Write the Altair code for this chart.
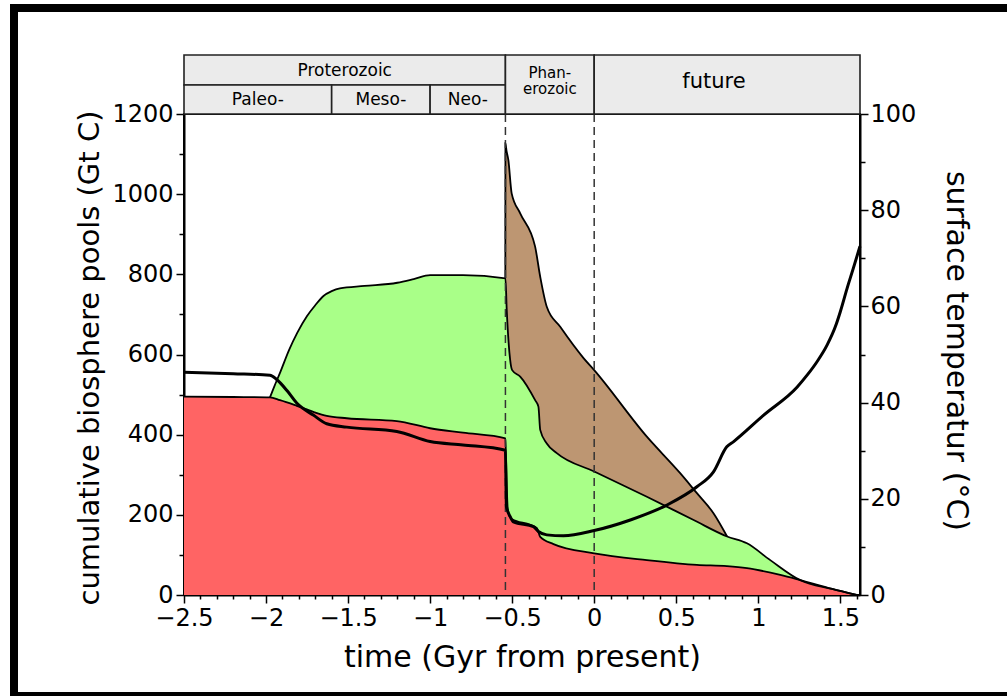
import altair as alt
import pandas as pd

FONT = "DejaVu Sans"
PHAN = -0.541  # start of the Phanerozoic (Gyr from present)

# Cumulative pool boundaries (Gt C) against time (Gyr from present)
red_t = [-2.5, -2.2, -1.976, -1.915, -1.813, -1.712, -1.63, -1.508, -1.203, -1.0, -0.8,
         -0.541, -0.535, -0.527, -0.515, -0.50, -0.39, -0.349, -0.329, -0.248, 0.0,
         0.321, 0.626, 0.809, 0.931, 1.134, 1.256, 1.45, 1.6]
red_c = [495, 494, 493, 486, 472, 457, 447, 441, 434, 416, 405,
         391, 300, 215, 196, 189, 175, 167, 145, 127, 104,
         87, 75, 72, 67, 50, 37, 15, 0]

green_t = [-1.976, -1.95, -1.915, -1.86, -1.81, -1.75, -1.70, -1.65, -1.60, -1.55, -1.40,
           -1.20, -1.10, -1.0, -0.8, -0.541, -0.533, -0.512, -0.50, -0.451, -0.36, -0.34,
           -0.329, -0.289, -0.228, 0.0, 0.321, 0.606, 0.81, 0.931, 1.073, 1.256, 1.45, 1.6]
green_c = [493, 520, 554, 611, 654, 696, 723, 746, 758, 765, 771,
           779, 788, 798, 798, 790, 711, 586, 561, 545, 486, 470,
           412, 378, 354, 308, 245, 187, 146, 129, 87, 37, 15, 0]

brown_t = [-0.5415, -0.541, -0.535, -0.523, -0.503, -0.451, -0.36, -0.329, -0.289, -0.207,
           -0.065, 0.0, 0.321, 0.524, 0.626, 0.727, 0.81]
brown_c = [790, 1127, 1110, 1085, 1002, 952, 869, 794, 719, 669,
           591, 561, 395, 304, 254, 204, 146]

# Surface temperature (deg C)
temp_t = [-2.5, -2.2, -1.976, -1.935, -1.87, -1.813, -1.712, -1.63, -1.508, -1.203, -1.0, -0.8,
          -0.541, -0.535, -0.512, -0.492, -0.37, -0.34, -0.289, -0.187, 0.0, 0.22, 0.443,
          0.626, 0.727, 0.808, 0.85, 1.033, 1.236, 1.3, 1.36, 1.42, 1.47, 1.5, 1.54, 1.58, 1.62]
temp_c = [46.3, 46.0, 45.7, 44.8, 42.4, 39.9, 37.4, 35.6, 34.9, 34.0, 31.9, 31.2,
          30.1, 18.4, 16.3, 15.2, 14.2, 13.2, 12.5, 12.3, 13.4, 15.6, 18.7,
          22.5, 25.6, 30.8, 31.9, 37.4, 43.2, 45.8, 48.6, 52.0, 55.8, 58.9, 63.6, 68.0, 72.5]

# Geological time bands shown above the plot
band_top_name = ["Proterozoic"]
band_top_x0 = [-2.5]
band_top_x1 = [PHAN]
band_sub_name = ["Paleo-", "Meso-", "Neo-"]
band_sub_x0 = [-2.5, -1.6, -1.0]
band_sub_x1 = [-1.6, -1.0, PHAN]
band_full_name = ["Phan-\nerozoic", "future"]
band_full_x0 = [PHAN, 0.0]
band_full_x1 = [0.0, 1.62]
band_full_lx = [-0.27, 0.73]

boundary_t = [PHAN, 0.0]

x_ticks = [round(-2.5 + 0.1 * i, 1) for i in range(42)]
y_ticks = list(range(0, 1201, 100))
temp_ticks = list(range(0, 101, 10))

W, H = 676, 481

x_scale = alt.Scale(domain=[-2.5, 1.62], nice=False, zero=False)
y_scale = alt.Scale(domain=[0, 1200], nice=False)
temp_scale = alt.Scale(domain=[0, 100], nice=False)

major_x = "abs(datum.value*2 - round(datum.value*2)) < 0.001"
x_axis = alt.Axis(
    title="time (Gyr from present)", values=x_ticks, format="~g",
    labelExpr=f"{major_x} ? datum.label : ''",
    tickSize=alt.condition(major_x, alt.value(8), alt.value(4)),
    labelOverlap=False, labelFlush=False, labelPadding=3,
    titleX=W / 2, titleY=62, titleAnchor="middle", titleAlign="center",
    titleBaseline="middle", titleFontSize=30, grid=False,
)
y_axis = alt.Axis(
    title="cumulative biosphere pools (Gt C)", values=y_ticks, format="d",
    labelExpr="datum.value % 200 == 0 ? datum.label : ''",
    tickSize=alt.condition("datum.value % 200 == 0", alt.value(8), alt.value(5)),
    labelOverlap=False, labelFlush=False, labelPadding=3, orient="left",
    titleX=-95, titleY=H / 2 + 3, titleAngle=270, titleAlign="center",
    titleBaseline="middle", titleFontSize=29, grid=False,
)
temp_axis = alt.Axis(
    title="surface temperatur (°C)", values=temp_ticks, format="d",
    labelExpr="datum.value % 20 == 0 ? datum.label : ''",
    tickSize=alt.condition("datum.value % 20 == 0", alt.value(8), alt.value(5)),
    labelOverlap=False, labelFlush=False, labelPadding=2, orient="right",
    titleX=95, titleY=H / 2 - 4, titleAngle=90, titleAlign="center",
    titleBaseline="middle", titleFontSize=30, grid=False,
)


def X(field):
    return alt.X(f"{field}:Q", scale=x_scale, axis=x_axis)


def Y(field):
    return alt.Y(f"{field}:Q", scale=y_scale, axis=y_axis)


red_df = pd.DataFrame({"t": red_t, "c": red_c})
green_df = pd.DataFrame({"t": green_t, "c": green_c})
brown_df = pd.DataFrame({"t": brown_t, "c": brown_c})
temp_df = pd.DataFrame({"t": temp_t, "c": temp_c})

RED, GREEN, BROWN = "#ff6464", "#a9ff88", "#bd9672"

brown_area = alt.Chart(brown_df).mark_area(color=BROWN, interpolate="monotone").encode(x=X("t"), y=Y("c"))
green_area = alt.Chart(green_df).mark_area(color=GREEN, interpolate="monotone").encode(x=X("t"), y=Y("c"))
red_area = alt.Chart(red_df).mark_area(color=RED, interpolate="monotone").encode(x=X("t"), y=Y("c"))

edge = dict(color="black", strokeWidth=1.8, interpolate="monotone")
brown_line = alt.Chart(brown_df).mark_line(**edge).encode(x=X("t"), y=Y("c"))
green_line = alt.Chart(green_df).mark_line(**edge).encode(x=X("t"), y=Y("c"))
red_line = alt.Chart(red_df).mark_line(**edge).encode(x=X("t"), y=Y("c"))

dashes = alt.Chart(pd.DataFrame({"t": boundary_t})).mark_rule(
    color="#333333", strokeWidth=1.5, strokeDash=[8, 5]
).encode(x=X("t"), y=alt.value(0), y2=alt.value(H))

# Header bands
band_style = dict(fill="#ebebeb", stroke="#222222", strokeWidth=1.6)
top_df = pd.DataFrame({"name": band_top_name, "x0": band_top_x0, "x1": band_top_x1})
top_df["lx"] = (top_df.x0 + top_df.x1) / 2
sub_df = pd.DataFrame({"name": band_sub_name, "x0": band_sub_x0, "x1": band_sub_x1})
sub_df["lx"] = (sub_df.x0 + sub_df.x1) / 2
full_df = pd.DataFrame({"name": band_full_name, "x0": band_full_x0, "x1": band_full_x1,
                        "lx": band_full_lx})

top_rect = alt.Chart(top_df).mark_rect(**band_style).encode(
    x=X("x0"), x2="x1:Q", y=alt.value(-59), y2=alt.value(-29))
sub_rect = alt.Chart(sub_df).mark_rect(**band_style).encode(
    x=X("x0"), x2="x1:Q", y=alt.value(-29), y2=alt.value(0))
full_rect = alt.Chart(full_df).mark_rect(**band_style).encode(
    x=X("x0"), x2="x1:Q", y=alt.value(-59), y2=alt.value(0))

txt = dict(font=FONT, color="black", align="center", baseline="middle")
top_text = alt.Chart(top_df).mark_text(fontSize=17, **txt).encode(
    x=X("lx"), y=alt.value(-43), text="name:N")
sub_text = alt.Chart(sub_df).mark_text(fontSize=17, **txt).encode(
    x=X("lx"), y=alt.value(-14), text="name:N")
phan_text = alt.Chart(full_df.iloc[[0]]).mark_text(
    fontSize=15, lineBreak="\n", lineHeight=16, **txt
).encode(x=X("lx"), y=alt.value(-41), text="name:N")
future_text = alt.Chart(full_df.iloc[[1]]).mark_text(fontSize=21, **txt).encode(
    x=X("lx"), y=alt.value(-32), text="name:N")

# Outer black frame of the figure
one = pd.DataFrame({"k": [0]})
frame_top = alt.Chart(one).mark_rect(color="black").encode(
    x=alt.value(-174), x2=alt.value(823), y=alt.value(-110), y2=alt.value(-102))
frame_left = alt.Chart(one).mark_rect(color="black").encode(
    x=alt.value(-174), x2=alt.value(-166), y=alt.value(-110), y2=alt.value(582))
frame_bottom = alt.Chart(one).mark_rect(color="black").encode(
    x=alt.value(-174), x2=alt.value(823), y=alt.value(578), y2=alt.value(582))

main = alt.layer(
    brown_area, green_area, red_area,
    brown_line, green_line, red_line,
    dashes,
    top_rect, sub_rect, full_rect,
    top_text, sub_text, phan_text, future_text,
    frame_top, frame_left, frame_bottom,
)

temp = alt.Chart(temp_df).mark_line(color="black", strokeWidth=3, interpolate="monotone").encode(
    x=X("t"), y=alt.Y("c:Q", scale=temp_scale, axis=temp_axis))

chart = alt.layer(main, temp).resolve_scale(y="independent").properties(
    width=W, height=H,
    autosize=alt.AutoSizeParams(type="none"),
    padding={"left": 184, "top": 114, "right": 147, "bottom": 101},
    background="white",
).configure_view(
    stroke="black", strokeWidth=2
).configure_axis(
    labelFont=FONT, labelFontSize=24, labelColor="black",
    titleFont=FONT, titleFontWeight="normal", titleColor="black",
    tickColor="black", tickWidth=1.5, domainColor="black", domainWidth=2,
)

chart.save("out.html", embed_options={"renderer": "svg", "actions": False})
